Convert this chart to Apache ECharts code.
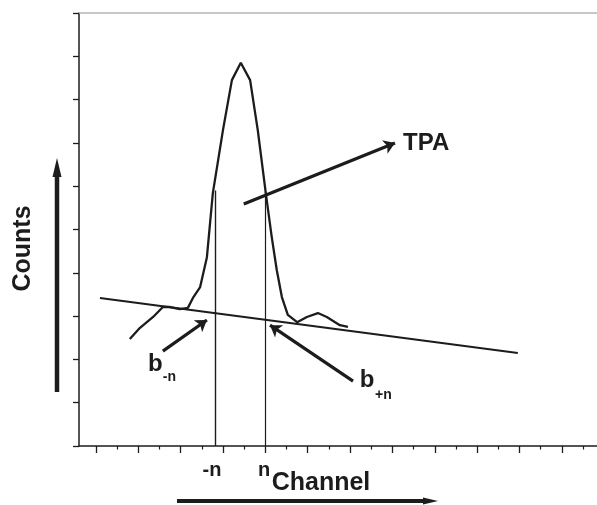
<!DOCTYPE html>
<html>
<head>
<meta charset="utf-8">
<script src="https://cdn.jsdelivr.net/npm/echarts@6/dist/echarts.min.js"></script>
<style>
html,body{margin:0;padding:0;background:#fff;}
#chart{width:597px;height:505px;}
</style>
</head>
<body>
<div id="chart"></div>
<script>
// ---- data (channel units on x, relative counts on y) ----
var curveX = [8.0, 10.4, 13.5, 15.8, 17.5, 19.8, 21.7, 22.9, 24.6, 26.2, 27.6, 30.0, 32.1, 34.2, 36.4, 38.2, 40.1, 41.5, 42.7, 43.9, 45.3, 47.5, 49.8, 52.4, 54.5, 57.6, 59.5];
var curveY = [24.7, 27.3, 29.8, 32.1, 32.1, 31.6, 31.9, 34.2, 36.7, 43.6, 58.4, 73.0, 84.5, 88.5, 84.5, 73.0, 58.4, 48.3, 40.6, 34.4, 30.3, 28.6, 29.8, 30.7, 29.8, 27.9, 27.5];
var baselineX = [0.94, 99.6];
var baselineY = [34.2, 21.5];
var windowX = [28.1, 39.9];      // -n and n boundaries
var windowTop = [59.0, 58.6];
var majorTicks = [0, 10, 20, 30, 40, 50, 60, 70, 80, 90, 100, 110];
var minorTicks = [5, 15, 25, 35, 45, 55, 65, 75, 85, 95, 105, 115];
var tickLabelPos = [27.4, 39.7];
var tickLabels = ['-n', 'n'];
var tpaArrow = [[34.9, 55.9], [70.6, 70.0]];
var bMinusArrow = [[15.8, 21.9], [26.2, 29.1]];
var bPlusArrow = [[60.7, 15.0], [41.1, 27.9]];
var annotations = [
  {name: 'TPA', pos: [72.5, 70.0], size: 24},
  {name: 'b', pos: [12.3, 18.9], size: 24},
  {name: '-n', pos: [15.8, 15.9], size: 14},
  {name: 'b', pos: [62.3, 15.2], size: 24},
  {name: '+n', pos: [65.9, 11.8], size: 14}
];

var FONT = '"Liberation Sans", Arial, sans-serif';
var INK = '#1c1c1c';

var chart = echarts.init(document.getElementById('chart'), null, {renderer: 'canvas'});

var curveData = curveX.map(function (x, i) { return [x, curveY[i]]; });
var linesData = [
  {coords: [[baselineX[0], baselineY[0]], [baselineX[1], baselineY[1]]], lineStyle: {width: 2}},
  {coords: [[windowX[0], 0], [windowX[0], windowTop[0]]], lineStyle: {width: 1.4}},
  {coords: [[windowX[1], 0], [windowX[1], windowTop[1]]], lineStyle: {width: 1.2}}
];
var arrowData = [
  {coords: tpaArrow},
  {coords: bMinusArrow},
  {coords: bPlusArrow}
];

var option = {
  backgroundColor: '#fff',
  animation: false,
  grid: {left: 79, right: 0, top: 13, bottom: 59, containLabel: false, outerBoundsMode: 'none'},
  xAxis: [
    {
      type: 'value', position: 'bottom', min: -4, max: 118.3,
      axisLine: {show: true, onZero: false, lineStyle: {color: INK, width: 1.5}},
      axisTick: {show: true, customValues: majorTicks, length: 7, lineStyle: {color: INK, width: 1.3}},
      axisLabel: {
        show: true, customValues: tickLabelPos, margin: 14,
        formatter: function (v) {
          var i = tickLabelPos.indexOf(v);
          return i >= 0 ? tickLabels[i] : '';
        },
        color: INK, fontFamily: FONT, fontWeight: 'bold', fontSize: 20
      },
      splitLine: {show: false},
      name: 'Channel', nameLocation: 'middle', nameGap: 25, nameMoveOverlap: false,
      nameTextStyle: {color: INK, fontFamily: FONT, fontWeight: 'bold', fontSize: 25, padding: [0, 34, 0, 0]}
    },
    {
      type: 'value', position: 'bottom', min: -4, max: 118.3,
      axisLine: {show: false},
      axisTick: {show: true, customValues: minorTicks, length: 3.5, lineStyle: {color: INK, width: 1.2}},
      axisLabel: {show: false},
      splitLine: {show: false}
    },
    {
      type: 'value', position: 'top', min: -4, max: 118.3,
      axisLine: {show: true, onZero: false, lineStyle: {color: '#b5b5b5', width: 1.5}},
      axisTick: {show: false}, axisLabel: {show: false}, splitLine: {show: false}
    }
  ],
  yAxis: {
    type: 'value', min: 0, max: 100, interval: 10,
    axisLine: {show: true, onZero: false, lineStyle: {color: INK, width: 1.5}},
    axisTick: {show: true, inside: false, length: 6, lineStyle: {color: INK, width: 1.3}},
    axisLabel: {show: false},
    splitLine: {show: false},
    name: 'Counts', nameLocation: 'middle', nameGap: 43, nameRotate: 90, nameMoveOverlap: false,
    nameTextStyle: {color: INK, fontFamily: FONT, fontWeight: 'bold', fontSize: 25, padding: [0, 38, 0, 0]}
  },
  series: [
    {
      type: 'line', data: curveData, showSymbol: false, symbol: 'none',
      lineStyle: {color: INK, width: 2.3}, z: 3
    },
    {
      type: 'lines', coordinateSystem: 'cartesian2d', data: linesData,
      lineStyle: {color: INK, opacity: 1, curveness: 0}, symbol: 'none', z: 2
    },
    {
      type: 'lines', coordinateSystem: 'cartesian2d', data: arrowData,
      lineStyle: {color: INK, width: 3.2, opacity: 1, curveness: 0},
      symbol: ['none', 'arrow'], symbolSize: 11, z: 4
    },
    {
      type: 'scatter', symbolSize: 0, silent: true,
      itemStyle: {opacity: 1, color: INK},
      data: annotations.map(function (a) {
        return {
          value: a.pos, name: a.name,
          label: {show: true, position: 'right', distance: 0, formatter: a.name, opacity: 1,
                  color: INK, fontFamily: FONT, fontWeight: 'bold', fontSize: a.size}
        };
      }),
      z: 5
    }
  ],
  graphic: [
    {type: 'line', shape: {x1: 57, y1: 392, x2: 57, y2: 174}, style: {stroke: INK, lineWidth: 4.5}},
    {type: 'polygon', shape: {points: [[57, 158], [52.5, 177], [61.5, 177]]}, style: {fill: INK}},
    {type: 'line', shape: {x1: 177, y1: 501, x2: 426, y2: 501}, style: {stroke: INK, lineWidth: 4}},
    {type: 'polygon', shape: {points: [[438, 501], [423, 497.5], [423, 504.5]]}, style: {fill: INK}}
  ]
};
chart.setOption(option);
</script>
</body>
</html>
